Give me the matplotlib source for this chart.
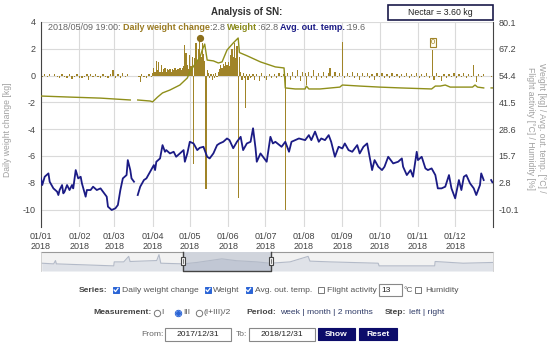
import numpy as np
import pandas as pd
import matplotlib
matplotlib.use("Agg")
import matplotlib.pyplot as plt
import matplotlib.dates as mdates
from matplotlib.patches import Rectangle
from matplotlib.lines import Line2D

plt.rcParams['font.family'] = ['Liberation Sans', 'DejaVu Sans']
plt.rcParams['axes.unicode_minus'] = False

# ---- data (days counted from 2018-01-01) ----
bar_days = [1, 3, 5, 7, 9, 11, 13, 15, 17, 19, 21, 23, 25, 27, 29, 31, 33, 35, 37, 38,
            40, 42, 44, 46, 48, 50, 52, 54, 56, 58, 60, 62, 64, 66, 68, 70,
            79, 80, 81, 83, 85, 87, 89,
            90, 91, 92, 93, 94, 95, 96, 97, 98, 99, 100, 101, 102, 103, 104, 105, 106, 107, 108, 109,
            110, 111, 112, 113, 114, 115, 116, 117, 118, 119, 120, 121, 122, 123, 124, 125, 126, 127,
            128, 129, 130, 131, 132, 133, 134, 135, 136, 137, 138, 139, 140, 141, 142, 143, 144, 145,
            146, 147, 148, 149, 150, 151, 152, 153, 154, 155, 156, 157, 158, 159, 160, 161, 162, 163,
            164, 165, 166, 167, 168, 169, 170, 171, 172, 174, 176, 178, 180, 182, 184, 186, 188, 190,
            192, 194, 196, 197, 199, 201, 203, 205, 207, 209, 211, 213, 214, 216, 218, 220, 222, 224,
            226, 228, 230, 232, 233, 235, 237, 239, 241, 243, 245, 247, 249, 251, 253, 255, 257, 259,
            261, 263, 265, 267, 269, 271, 273, 275, 277, 279, 281, 283, 285, 287, 289, 291, 293, 295,
            297, 299, 301, 303, 305, 307, 309, 311, 313, 316, 317, 319, 321, 323, 325, 327, 329, 331,
            333, 335, 337, 339, 341, 343, 345, 347, 349, 351, 353, 355, 357, 363]
bar_kg = [-0.1, 0.1, -0.1, 0.1, -0.05, 0.1, -0.1, -0.15, 0.1, -0.1, -0.2, 0.1, -0.25, -0.1, 0.15, -0.2, -0.15, -0.1, 0.15, -0.35,
          0.1, -0.1, 0.1, -0.1, -0.15, 0.1, -0.1, -0.2, 0.15, 0.4, -0.2, 0.1, -0.15, 0.2, -0.1, 0.1,
          -0.1, -0.45, 0.15, -0.1, -0.2, 0.1, -0.1,
          0.2, 0.6, 0.3, 1.1, 0.4, 1.0, 0.3, 0.8, 0.3, 0.5, 0.6, 0.3, 0.5, 0.4, 0.5, 0.3, 0.5, 0.4, 0.6, 0.4,
          0.5, 0.5, 0.6, 0.4, 0.6, 0.7, 2.3, 1.7, 0.8, 0.5, 1.5, 0.7, 1.4, -6.6, 1.3, 2.4, 1.2, 2.0,
          2.8, 1.4, 2.4, 1.6, 1.1, -8.5, 0.4, 0.2, -0.2, 0.1, -0.3, 0.1, -0.2, 0.2, -0.1, 0.3, 0.5, 0.8,
          0.6, 0.9, 0.7, 1.0, 0.8, 1.0, 0.7, 1.5, 2.0, 1.4, 2.4, 1.3, 2.2, -9.1, 1.4, 0.3, -0.3, 0.2,
          -0.2, -2.4, 0.1, -0.3, 0.1, -0.2, -0.1, 0.1, -0.3, 0.1, -0.4, 0.2, -0.2, -0.3, 0.1, -0.2, 0.1, -0.2,
          0.2, -0.1, 0.1, -10.0, 0.2, -0.3, 0.3, -0.2, 0.4, -0.4, 0.3, 0.2, -0.7, 0.3, -0.2, 0.4, -0.3, 0.2,
          -0.2, 0.3, -0.2, 0.2, 0.6, -0.2, 0.3, -0.1, 0.2, 2.5, -0.2, 0.2, -0.1, 0.3, -0.2, 0.2, -0.3, 0.2,
          -0.1, 0.2, -0.2, 0.1, -0.3, 0.2, -0.1, 0.2, -0.2, 0.1, -0.2, 0.2, -0.1, 0.1, -0.2, 0.1, -0.1, 0.2,
          -0.2, 0.1, -0.1, 0.2, -0.2, 0.1, -0.1, 0.2, -0.2, 1.9, -0.3, 0.2, -0.1, -0.4, 0.1, -0.2, 0.1, -0.1,
          0.2, -0.2, 0.1, -0.1, 0.2, -0.2, 0.1, -0.1, 0.8, -0.5, 0.1, -0.1, 0.1, -0.1]

weight_days = [0, 23, 48, 72, 75, 78, 88, 90, 94, 98, 104, 112, 118, 120, 126, 128, 130, 132, 134,
               139, 143, 146, 150, 155, 159, 160, 166, 177, 189, 196, 197, 205, 213, 214, 216, 225,
               241, 243, 257, 273, 290, 315, 318, 322, 326, 330, 348, 350, 352, 357, 360, 363, 364]
weight_kg = [44.5, 44.0, 43.5, 42.6, np.nan, 42.6, 42.1, 41.7, 44.0, 46.0, 47.4, 49.8, 53.2, 56.1, 61.5, 62.8, 66.6, 69.5, 61.8,
             61.4, 60.4, 60.9, 66.6, 70.0, 72.4, 65.4, 63.9, 60.9, 58.5, 58.0, 48.4, 47.9, 47.9, 49.3, 47.9, 47.9,
             48.8, 49.8, 49.3, 48.8, 48.4, 47.9, 49.3, 49.3, 49.8, 48.8, 48.8, 49.8, 48.8, 48.4, np.nan, 48.4, 48.4]

temp_days = [0, 1, 3, 6, 7, 10, 13, 14, 15, 17, 18, 19, 21, 23, 25, 26, 28, 30, 32, 33,
             36, 37, 40, 42, 45, 48, 50, 53, 54, 57, 60, 62, 64, 66, 69, 70, 72, 73, 75, 76,
             78, 80, 83, 85, 88, 91, 92, 93, 96, 98, 100, 101, 104, 107, 109, 112, 115, 116, 118, 120,
             123, 126, 128, 131, 134, 136, 139, 142, 144, 147, 150, 152, 155, 158, 161, 163, 166, 169, 171, 173,
             174, 177, 179, 182, 185, 187, 189, 194, 197, 200, 202, 208, 213, 216, 218, 221, 224, 226, 229, 232,
             234, 237, 240, 243, 245, 248, 251, 255, 257, 260, 263, 265, 267, 269, 272, 275, 277, 280, 282, 284,
             288, 291, 292, 295, 298, 300, 303, 304, 307, 310, 312, 315, 318, 320, 323, 326, 329, 331, 334, 337,
             339, 341, 343, 346, 349, 351, 354, 355, 357, 360, 363, 364]
temp_c = [4.9, 1.7, 5.7, 7.3, 3.3, 0.1, -1.5, -3.1, -0.7, 1.7, -2.3, -1.5, 1.7, -0.7, 1.7, 0.1, 8.9, 4.9, 5.7, 2.5,
          -3.9, -0.7, -0.7, 0.9, -0.7, 0.1, -1.5, -3.9, -8.7, -10.3, -9.5, -7.9, -0.7, 4.9, 6.5, 13.7, 8.9, 4.9, 3.3, np.nan,
          -3.1, 0.9, 4.1, 4.9, 8.1, 11.3, 8.9, 12.9, 14.5, 20.9, 17.7, 18.5, 16.9, 17.7, 15.3, 16.9, 18.5, 12.9, 16.9, 22.5,
          21.7, 18.5, 19.6, 20.1, 15.3, 14.5, 16.9, 20.9, 21.7, 22.5, 24.1, 23.3, 19.4, 22.5, 24.9, 18.5, 21.7, 22.5, 29.0, 19.4,
          12.9, 16.9, 15.3, 12.9, 24.9, 21.7, 22.5, 20.1, 22.5, 17.7, 22.5, 24.1, 23.3, 25.7, 23.3, 27.4, 22.5, 24.1, 23.3, 25.7,
          22.5, 15.3, 20.1, 19.3, 21.7, 18.5, 17.7, 20.9, 16.9, 20.1, 21.7, 15.3, 8.9, 13.7, 10.5, 8.9, 10.5, 15.3, 13.7, 12.1,
          12.9, 14.5, 10.5, 6.5, 8.9, 5.7, 17.7, 13.7, 15.3, 9.7, 8.9, 9.7, 6.5, 0.1, 0.1, 0.9, 6.5, 0.1, -4.7, 4.1,
          -0.7, 5.7, 6.5, 2.5, 0.1, -3.1, 1.7, 7.3, 4.1, np.nan, 4.1, 3.0]

right_ticks = [80.1, 67.2, 54.4, 41.5, 28.6, 15.7, 2.8, -10.1]
left_ticks = [4, 2, 0, -2, -4, -6, -8, -10]

# overview strip under the chart (percent of width, relative height)
nav_pos = [0.2, 2.8, 3.2, 3.4, 16.1, 16.2, 18.3, 19.4, 19.7, 25.6, 26.1, 26.5, 31.5, 34.5, 37.4,
           40, 43.3, 47.7, 50.7, 55.1, 59.1, 59.5, 63.9, 74.6, 74.8, 87.1, 87.2, 93.4, 100]
nav_val = [0.41, 0.375, 0.55, 0.375, 0.27, 0.48, 0.48, 0.77, 0.5, 0.55, 0.86, 0.41, 0.375, 0.45, 0.55,
           0.64, 0.54, 0.48, 0.41, 0.48, 0.77, 0.52, 0.48, 0.41, 0.27, 0.27, 0.5, 0.41, 0.45]

BAR_C = '#a08428'
WEIGHT_C = '#8f8f1a'
TEMP_C = '#1b1b85'
GRID_C = '#dadada'

start = pd.Timestamp('2018-01-01')


def to_dates(days):
    return start + pd.to_timedelta(np.asarray(days, dtype=float), unit='D')


W, H = 550, 345


def fx(x):
    return x / W


def fy(y):
    return 1 - y / H


fig = plt.figure(figsize=(5.5, 3.45), dpi=100)

ax = fig.add_axes([fx(41), fy(227), 452 / W, 205 / H])
ax2 = ax.twinx()

# left axis: daily weight change
ax.bar(to_dates(bar_days), bar_kg, width=1.0, color=BAR_C, zorder=2)
ax.plot(to_dates([128]), [2.8], 'o', color='#8c6f1c', ms=4.2, zorder=4)
x0 = mdates.date2num(start + pd.Timedelta(days=316))
ax.text(x0, 2.2, '0', fontsize=5.5, color=BAR_C, ha='center', va='bottom', zorder=5,
        bbox=dict(boxstyle='square,pad=0.15', fc='#fffdf0', ec=BAR_C, lw=0.8))

ylo, yhi = -11.3, 4.0
ax.set_ylim(ylo, yhi)
ax.set_yticks(left_ticks)
ax.set_xlim(start, start + pd.Timedelta(days=364.5))
ax.set_xticks(pd.date_range('2018-01-01', periods=12, freq='MS'))
ax.xaxis.set_major_formatter(mdates.DateFormatter('%d/%m\n%Y'))
ax.grid(True, color=GRID_C, lw=0.8)
ax.set_axisbelow(True)
ax.tick_params(axis='both', length=0, labelsize=6.5, labelcolor='#444')
ax.tick_params(axis='y', pad=4)
ax.tick_params(axis='x', pad=3.5)
for s in ['top', 'bottom']:
    ax.spines[s].set_visible(False)
ax.spines['left'].set_color('#444')
ax.spines['right'].set_visible(False)

# right axis: weight and temperature
a, b = 54.33, 6.443
ax2.set_ylim(a + b * ylo, a + b * yhi)
ax2.set_yticks(right_ticks)
ax2.set_yticklabels([f'{v:.1f}' for v in right_ticks])
ax2.tick_params(axis='y', length=0, labelsize=6.5, labelcolor='#444', pad=4)
for s in ['top', 'bottom', 'left']:
    ax2.spines[s].set_visible(False)
ax2.spines['right'].set_color('#444')
ax2.plot(to_dates(weight_days), weight_kg, color=WEIGHT_C, lw=1.0, zorder=3)
ax2.plot(to_dates(temp_days), temp_c, color=TEMP_C, lw=1.3, zorder=3)

# axis titles
fig.text(fx(8), fy(130), 'Daily weight change [kg]', rotation=90, ha='center', va='center',
         fontsize=6.2, color='#a0a0a0')
fig.text(fx(536), fy(128), 'Weight [kg] / Avg. out. temp. [°C] /\nFlight activity [°C] / Humidity [%]',
         rotation=270, ha='center', va='center', fontsize=6.2, color='#a0a0a0', linespacing=1.25)

# title and nectar box
fig.text(fx(247), fy(12), 'Analysis of SN:', ha='center', va='center', fontsize=7, fontweight='bold', color='#333')
fig.add_artist(Rectangle((fx(388), fy(20)), 105 / W, 15 / H, transform=fig.transFigure,
                         fc='white', ec='#1a1a4a', lw=1.2))
fig.text(fx(440), fy(12.5), 'Nectar = 3.60 kg', ha='center', va='center', fontsize=6.3, color='#222')

# tooltip line with coloured parts
renderer = fig.canvas.get_renderer()
segs = [('2018/05/09 19:00: ', '#666', 'normal'),
        ('Daily weight change', '#9a7b22', 'bold'),
        (':2.8 ', '#666', 'normal'),
        ('Weight', '#8a8a1a', 'bold'),
        (':62.8 ', '#666', 'normal'),
        ('Avg. out. temp.', '#1b1b85', 'bold'),
        (':19.6', '#666', 'normal')]
xpos = 48
for s, c, w in segs:
    t = fig.text(fx(xpos), fy(27), s, ha='left', va='center', fontsize=6.5, color=c, fontweight=w)
    bb = t.get_window_extent(renderer)
    xpos += bb.width

# overview navigator
nav = fig.add_axes([fx(41), fy(271), 452 / W, 19 / H])
nav.set_xlim(0, 100)
nav.set_ylim(0, 1)
nav.set_facecolor('#f2f2f2')
nav.fill_between(nav_pos, 0, nav_val, color='#dfe2e8', lw=0)
nav.plot(nav_pos, nav_val, color='#b3bac8', lw=0.8)
sel0, sel1 = 31.4, 50.9
nav.axvspan(sel0, sel1, color='#5a6a90', alpha=0.22, lw=0)
nav.set_xticks([])
nav.set_yticks([])
for s in nav.spines.values():
    s.set_visible(False)
nav.plot([0, sel0], [1, 1], color='#999', lw=0.8, clip_on=False)
nav.plot([sel1, 100], [1, 1], color='#999', lw=0.8, clip_on=False)
nav.plot([0, 0], [0, 1], color='#ccc', lw=0.6, clip_on=False)
nav.plot([100, 100], [0, 1], color='#ccc', lw=0.6, clip_on=False)
nav.plot([sel0, sel0, sel1, sel1], [1, 0, 0, 1], color='#444', lw=1.0, clip_on=False)
for xs in (sel0, sel1):
    nav.add_patch(Rectangle((xs - 0.45, 0.3), 0.9, 0.45, fc='#f5f5f5', ec='#444', lw=0.8,
                            clip_on=False, zorder=5))
    nav.plot([xs, xs], [0.4, 0.65], color='#444', lw=0.5, zorder=6, clip_on=False)


# form controls
def label(x, y, s, color='#555', weight='normal', ha='left'):
    fig.text(fx(x), fy(y), s, ha=ha, va='center', fontsize=6.1, color=color, fontweight=weight)


def checkbox(x, y, checked):
    c = '#2a64d6'
    fig.add_artist(Rectangle((fx(x - 3), fy(y + 3)), 6 / W, 6 / H, transform=fig.transFigure,
                             fc=c if checked else 'white', ec=c if checked else '#777', lw=0.7))
    if checked:
        fig.add_artist(Line2D([fx(x - 1.9), fx(x - 0.5), fx(x + 2.0)], [fy(y), fy(y + 1.6), fy(y - 1.7)],
                              transform=fig.transFigure, color='white', lw=0.9))


def radio(x, y, on):
    fig.add_artist(Line2D([fx(x)], [fy(y)], marker='o', ms=4.6, mfc='white',
                          mec='#2a64d6' if on else '#777', mew=0.7, transform=fig.transFigure))
    if on:
        fig.add_artist(Line2D([fx(x)], [fy(y)], marker='o', ms=2.6, mfc='#2a64d6', mec='#2a64d6',
                              transform=fig.transFigure))


def box(x0, x1, y0, y1, fc='white', ec='#888'):
    fig.add_artist(Rectangle((fx(x0), fy(y1)), (x1 - x0) / W, (y1 - y0) / H,
                             transform=fig.transFigure, fc=fc, ec=ec, lw=0.8))


yr = 290
label(79, yr, 'Series:', '#444', 'bold')
checkbox(116, yr, True)
label(122, yr, 'Daily weight change')
checkbox(208, yr, True)
label(213, yr, 'Weight')
checkbox(248.5, yr, True)
label(255, yr, 'Avg. out. temp.')
checkbox(320.5, yr, False)
label(327, yr, 'Flight activity')
box(379, 402, yr - 6, yr + 6)
label(381, yr, '13', '#222')
label(403, yr, '°C')
checkbox(418, yr, False)
label(425, yr, 'Humidity')

yr = 313
label(93, yr, 'Measurement:', '#444', 'bold')
radio(157, yr, False)
label(161.5, yr, 'I')
radio(177.5, yr, True)
label(183, yr, 'III')
radio(199, yr, False)
label(204, yr, '(I+III)/2')
label(246, yr, 'Period:', '#444', 'bold')
label(280, yr, 'week | month | 2 months', '#2e3a66')
label(385, yr, 'Step:', '#444', 'bold')
label(409, yr, 'left | right', '#2e3a66')

yr = 334
label(141, yr, 'From:', '#666')
box(165, 231, yr - 6.5, yr + 6.5)
label(198, yr, '2017/12/31', '#222', ha='center')
label(236, yr, 'To:', '#666')
box(249, 315, yr - 6.5, yr + 6.5)
label(282, yr, '2018/12/31', '#222', ha='center')
box(318, 355, yr - 6, yr + 6, fc='#0c0c6a', ec='#0c0c6a')
label(336.5, yr, 'Show', 'white', 'bold', ha='center')
box(359, 397, yr - 6, yr + 6, fc='#0c0c6a', ec='#0c0c6a')
label(378, yr, 'Reset', 'white', 'bold', ha='center')

fig.savefig('out.png', dpi=100)
